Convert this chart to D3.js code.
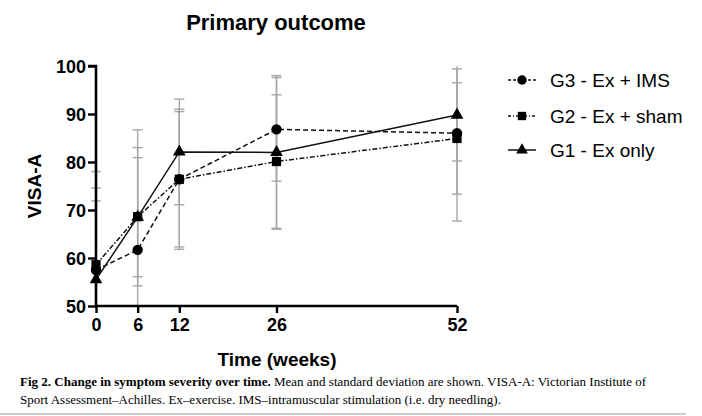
<!DOCTYPE html>
<html>
<head>
<meta charset="utf-8">
<script src="https://cdn.jsdelivr.net/npm/d3@7"></script>
<style>
  body { margin: 0; background: #fff; }
  svg text { font-family: "Liberation Sans", Arial, sans-serif; }
  .caption { font-family: "Liberation Serif", "Times New Roman", serif; }
</style>
</head>
<body>
<div id="chart"></div>
<script>
// weeks on the x axis
var weeks = [0, 6, 12, 26, 52];

// mean VISA-A per group
var g3Mean = [57.5, 61.7, 76.4, 86.8, 86.0];
var g2Mean = [58.6, 68.6, 76.4, 80.1, 84.9];
var g1Mean = [55.5, 68.5, 82.1, 82.0, 89.8];

// standard deviation per group
var g3Sd = [20.5, 25.0, 14.1, 10.8, 18.3];
var g2Sd = [16.0, 14.4, 14.6, 13.9, 11.6];
var g1Sd = [16.4, 12.4, 11.0, 16.0, 9.6];

var yTicks = [50, 60, 70, 80, 90, 100];

var groups = [
  { name: "G3 - Ex + IMS",  mean: g3Mean, sd: g3Sd, symbol: d3.symbolCircle,   dash: "5,3" },
  { name: "G2 - Ex + sham", mean: g2Mean, sd: g2Sd, symbol: d3.symbolSquare,   dash: "5,2,1.5,2" },
  { name: "G1 - Ex only",   mean: g1Mean, sd: g1Sd, symbol: d3.symbolTriangle, dash: null }
];

var width = 702, height = 416;
var svg = d3.select("#chart").append("svg")
  .attr("width", width)
  .attr("height", height);

var x = d3.scaleLinear().domain([0, 52]).range([96, 457]);
var y = d3.scaleLinear().domain([50, 100]).range([306, 66]);

// title
svg.append("text")
  .attr("x", 276).attr("y", 30)
  .attr("text-anchor", "middle")
  .style("font-size", "22px").style("font-weight", "bold")
  .text("Primary outcome");

// error bars first, grey, behind lines
var capW = 5;
groups.forEach(function(g) {
  var bars = svg.append("g")
    .attr("stroke", "#a6a6a6")
    .attr("stroke-width", 1.4)
    .attr("fill", "none");

  weeks.forEach(function(w, i) {
    var hi = g.mean[i] + g.sd[i], lo = g.mean[i] - g.sd[i];
    var cx = x(w);
    bars.append("line")
      .attr("x1", cx).attr("x2", cx)
      .attr("y1", y(Math.min(hi, 100))).attr("y2", y(Math.max(lo, 50)));
    if (hi <= 100) {
      bars.append("line")
        .attr("x1", cx - capW).attr("x2", cx + capW)
        .attr("y1", y(hi)).attr("y2", y(hi));
    }
    if (lo >= 50) {
      bars.append("line")
        .attr("x1", cx - capW).attr("x2", cx + capW)
        .attr("y1", y(lo)).attr("y2", y(lo));
    }
  });
});

// lines and markers
var line = d3.line()
  .x(function(d) { return x(d[0]); })
  .y(function(d) { return y(d[1]); });

groups.forEach(function(g) {
  var pts = weeks.map(function(w, i) { return [w, g.mean[i]]; });
  svg.append("path")
    .datum(pts)
    .attr("d", line)
    .attr("fill", "none")
    .attr("stroke", "#111")
    .attr("stroke-width", 1.5)
    .attr("stroke-dasharray", g.dash);

  svg.selectAll(null)
    .data(pts)
    .enter()
    .append("path")
    .attr("d", d3.symbol().type(g.symbol).size(g.symbol === d3.symbolTriangle ? 70 : 85))
    .attr("transform", function(d) { return "translate(" + x(d[0]) + "," + y(d[1]) + ")"; })
    .attr("fill", "#000");
});

// axes
var yAxis = svg.append("g")
  .attr("transform", "translate(96,0)")
  .call(d3.axisLeft(y).tickValues(yTicks).tickSize(8).tickPadding(2));

var xAxis = svg.append("g")
  .attr("transform", "translate(0,306)")
  .call(d3.axisBottom(x).tickValues(weeks).tickSize(7).tickPadding(5));

[yAxis, xAxis].forEach(function(a) {
  a.select(".domain").attr("stroke", "#000").attr("stroke-width", 2.6);
  a.selectAll(".tick line").attr("stroke", "#000").attr("stroke-width", 2.4);
  a.selectAll(".tick text")
    .attr("fill", "#000")
    .style("font-family", "'Liberation Sans', Arial, sans-serif")
    .style("font-size", "18px")
    .style("font-weight", "bold");
});
yAxis.selectAll(".tick text").attr("dy", "0.36em");
yAxis.select(".domain").attr("d", "M-8,66H0V306");
xAxis.select(".domain").attr("d", "M96,0H457");

// axis labels
svg.append("text")
  .attr("transform", "translate(41,186) rotate(-90)")
  .attr("text-anchor", "middle")
  .style("font-size", "19px").style("font-weight", "bold")
  .text("VISA-A");

svg.append("text")
  .attr("x", 277).attr("y", 366)
  .attr("text-anchor", "middle")
  .style("font-size", "19px").style("font-weight", "bold")
  .text("Time (weeks)");

// legend
var legend = svg.append("g");
var legendY = [80, 116, 150];
groups.forEach(function(g, i) {
  var row = legend.append("g").attr("transform", "translate(508," + legendY[i] + ")");
  row.append("line")
    .attr("x1", 0).attr("x2", 28)
    .attr("stroke", "#111").attr("stroke-width", 1.5)
    .attr("stroke-dasharray", g.dash ? (i === 0 ? "3,2" : "3,2,1,2") : null);
  row.append("path")
    .attr("d", d3.symbol().type(g.symbol).size(g.symbol === d3.symbolTriangle ? 60 : 70))
    .attr("transform", "translate(14,0)")
    .attr("fill", "#000");
  row.append("text")
    .attr("x", 42).attr("y", 7)
    .style("font-size", "19px")
    .text(g.name);
});

// caption
var cap = svg.append("text").attr("class", "caption")
  .attr("x", 20).attr("y", 386)
  .style("font-size", "13px");
cap.append("tspan").style("font-weight", "bold").text("Fig 2. Change in symptom severity over time.");
cap.append("tspan").text(" Mean and standard deviation are shown. VISA-A: Victorian Institute of");

svg.append("text").attr("class", "caption")
  .attr("x", 20).attr("y", 404)
  .style("font-size", "13px")
  .text("Sport Assessment\u2013Achilles. Ex\u2013exercise. IMS\u2013intramuscular stimulation (i.e. dry needling).");

svg.append("line")
  .attr("x1", 0).attr("x2", 686)
  .attr("y1", 414).attr("y2", 414)
  .attr("stroke", "#999").attr("stroke-width", 1);
</script>
</body>
</html>
